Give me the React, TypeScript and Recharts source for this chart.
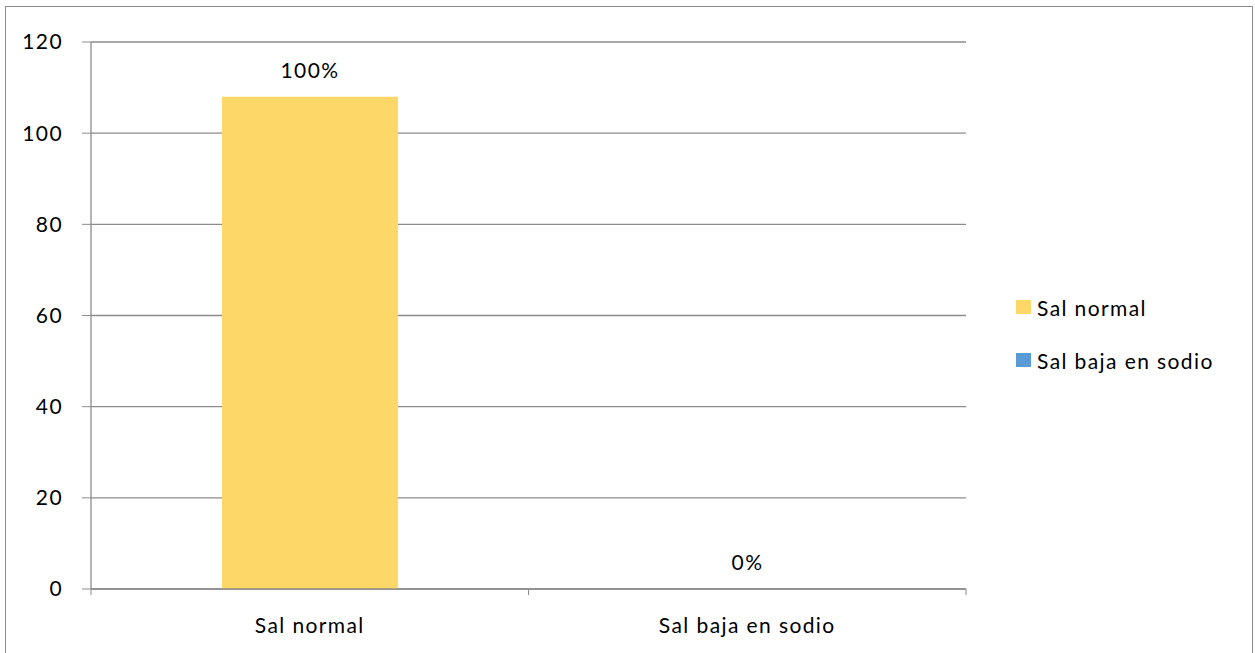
import { BarChart, Bar, XAxis, YAxis, CartesianGrid, LabelList } from 'recharts'

const categories = ['Sal normal', 'Sal baja en sodio']
const salNormal = [108, 0]
const salBaja = [0, 0]
const labelsNormal = ['100%', '']
const labelsBaja = ['', '0%']
const yTicks = [0, 20, 40, 60, 80, 100, 120]

const COLORS = {
  normal: '#FDD868',
  baja: '#5B9BD5',
  grid: '#8C8C8C',
}

const FONT = 'Lato, "Open Sans", sans-serif'
const FS = 21
const LS = 1.4

const data = categories.map((name, i) => ({
  name,
  normal: salNormal[i],
  baja: salBaja[i],
  labelNormal: labelsNormal[i],
  labelBaja: labelsBaja[i],
  pos: i,
}))

function LegendBox() {
  const items = [
    { name: 'Sal normal', color: COLORS.normal },
    { name: 'Sal baja en sodio', color: COLORS.baja },
  ]
  return (
    <div style={{ position: 'absolute', left: 1016, top: 293, fontFamily: FONT, fontSize: FS, letterSpacing: LS, color: '#000' }}>
      {items.map(it => (
        <div key={it.name} style={{ display: 'flex', alignItems: 'center', height: 28, marginBottom: 25 }}>
          <span style={{ width: 15, height: 14, background: it.color, display: 'inline-block', marginRight: 6 }} />
          <span>{it.name}</span>
        </div>
      ))}
    </div>
  )
}

const tickStyle = { fill: '#000', fontSize: FS, fontFamily: FONT, letterSpacing: LS }

export default function App() {
  return (
    <div style={{ position: 'fixed', left: 0, top: 0, width: 1255, height: 653, background: '#fff', overflow: 'hidden' }}>
      <div style={{ position: 'absolute', left: 5, top: 6, width: 1248, height: 700, border: '1px solid #8C8C8C', boxSizing: 'border-box' }} />
      <BarChart
        width={1255}
        height={653}
        data={data}
        barGap={-176}
        margin={{ top: 42, right: 289, left: 0, bottom: 0 }}
        style={{ position: 'absolute', left: 0, top: 0, fontFamily: FONT }}
      >
        <CartesianGrid horizontal vertical={false} stroke={COLORS.grid} strokeWidth={1.3} />
        {/* axis line + category boundary ticks, like the spreadsheet axis */}
        <XAxis
          xAxisId={0}
          type="number"
          dataKey="pos"
          domain={[0, 2]}
          ticks={[0, 1, 2]}
          height={1}
          tickFormatter={() => ''}
          tick={{ fontSize: 1 }}
          axisLine={{ stroke: COLORS.grid, strokeWidth: 1.3 }}
          tickSize={6}
          tickLine={{ stroke: COLORS.grid }}
          allowDataOverflow
        />
        <XAxis
          xAxisId="cat"
          dataKey="name"
          height={63}
          axisLine={false}
          tickLine={false}
          tick={tickStyle}
          tickMargin={22}
        />
        <YAxis
          width={91}
          domain={[0, 120]}
          ticks={yTicks}
          interval={0}
          axisLine={{ stroke: COLORS.grid, strokeWidth: 1.3 }}
          tickLine={{ stroke: COLORS.grid }}
          tickSize={9}
          tickMargin={19}
          tick={tickStyle}
        />
        <Bar xAxisId="cat" dataKey="normal" fill={COLORS.normal} barSize={176} isAnimationActive={false}>
          <LabelList dataKey="labelNormal" position="top" offset={19} fill="#000" fontSize={FS} fontFamily={FONT} letterSpacing={LS} />
        </Bar>
        <Bar xAxisId="cat" dataKey="baja" fill={COLORS.baja} barSize={176} minPointSize={0.01} isAnimationActive={false}>
          <LabelList dataKey="labelBaja" position="top" offset={19} fill="#000" fontSize={FS} fontFamily={FONT} letterSpacing={LS} />
        </Bar>
      </BarChart>
      <LegendBox />
    </div>
  )
}
